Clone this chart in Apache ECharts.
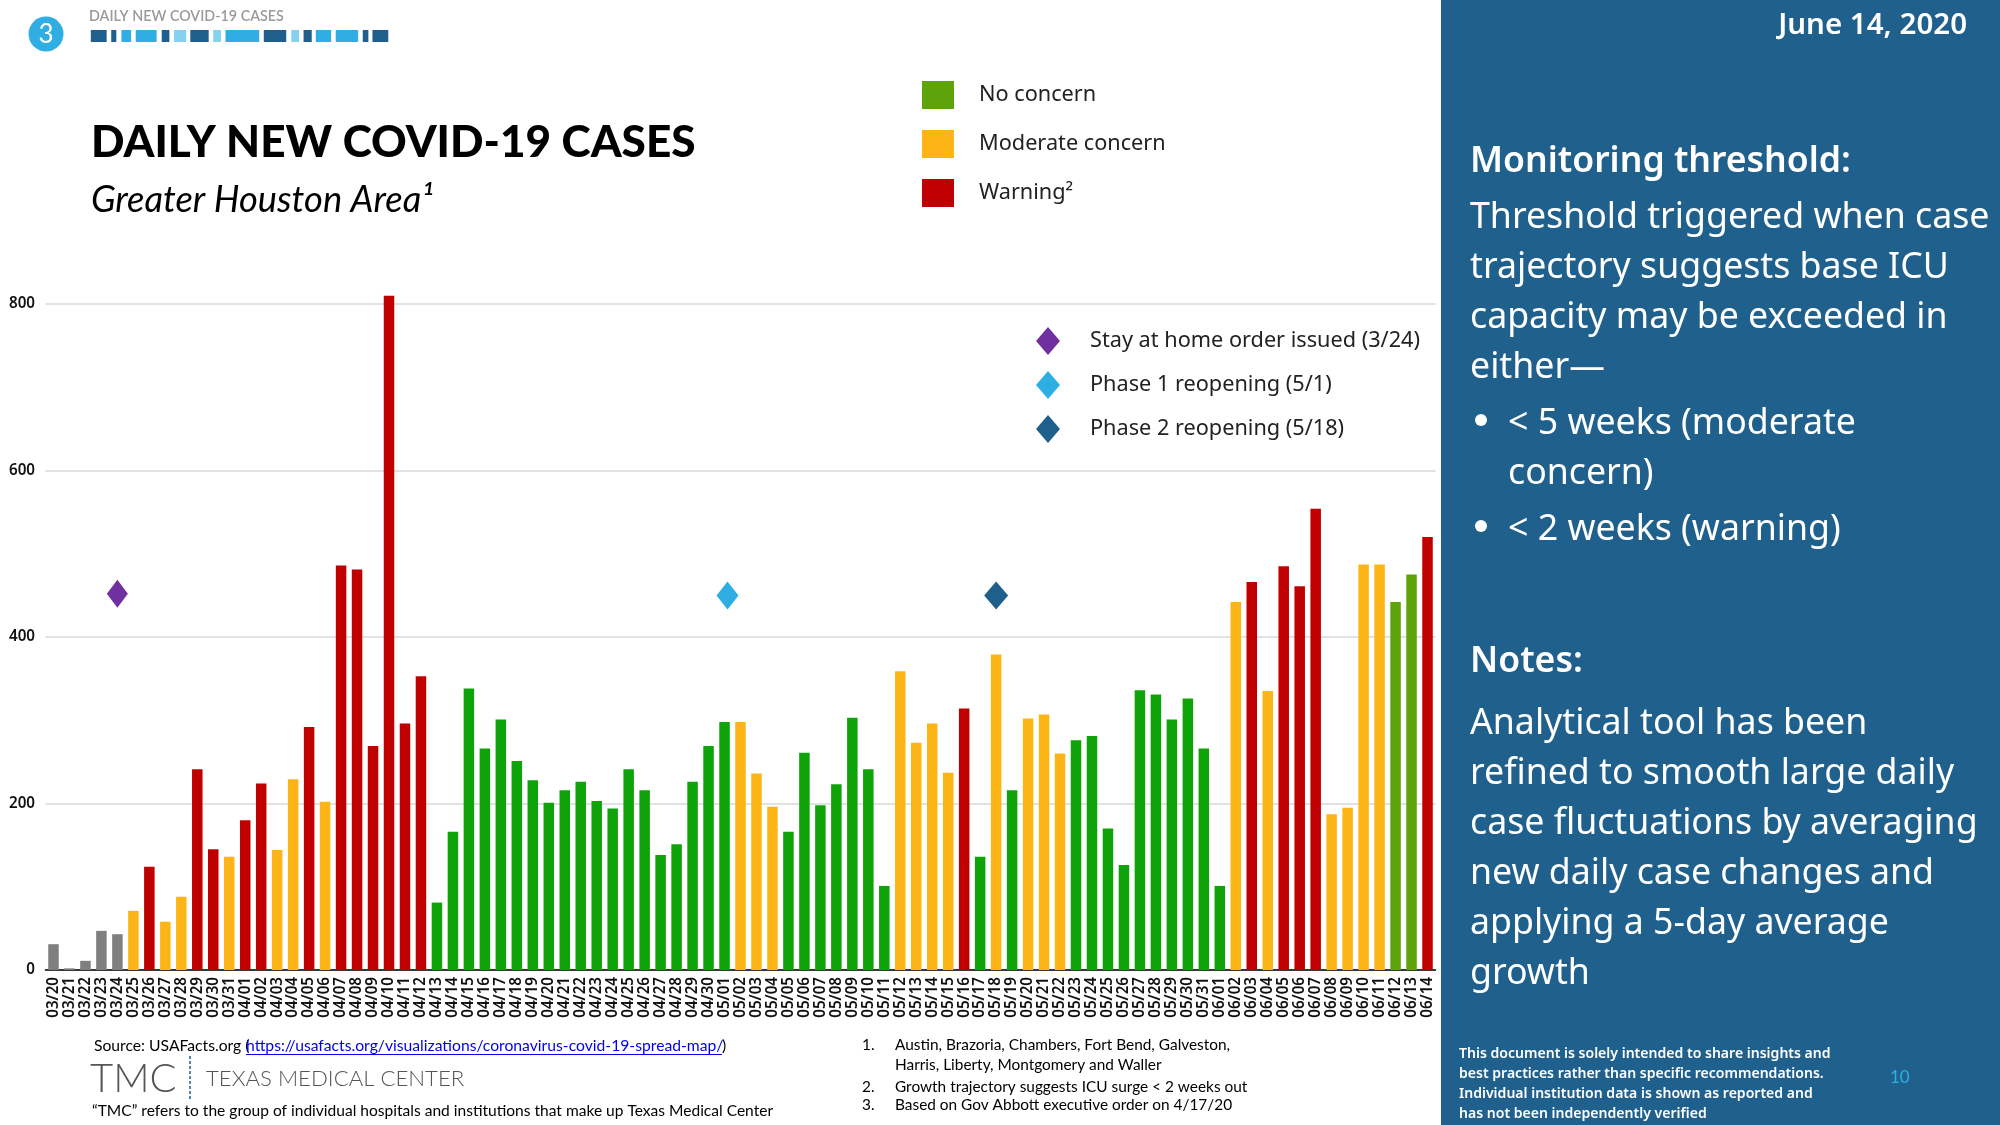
<!DOCTYPE html>
<html><head><meta charset="utf-8">
<style>html,body{margin:0;padding:0;background:#fff}#c{width:2000px;height:1125px}</style>
<script src="https://cdn.jsdelivr.net/npm/echarts@6/dist/echarts.min.js"></script>
</head><body><div id="c"></div>
<script>
const categories = ['03/20','03/21','03/22','03/23','03/24','03/25','03/26','03/27','03/28','03/29','03/30','03/31',
'04/01','04/02','04/03','04/04','04/05','04/06','04/07','04/08','04/09','04/10','04/11','04/12','04/13','04/14','04/15','04/16','04/17','04/18','04/19','04/20','04/21','04/22','04/23','04/24','04/25','04/26','04/27','04/28','04/29','04/30',
'05/01','05/02','05/03','05/04','05/05','05/06','05/07','05/08','05/09','05/10','05/11','05/12','05/13','05/14','05/15','05/16','05/17','05/18','05/19','05/20','05/21','05/22','05/23','05/24','05/25','05/26','05/27','05/28','05/29','05/30','05/31',
'06/01','06/02','06/03','06/04','06/05','06/06','06/07','06/08','06/09','06/10','06/11','06/12','06/13','06/14'];
const cases = [31,2,11,47,43,71,124,58,88,241,145,136,
180,224,144,229,292,202,486,481,269,810,296,353,81,166,338,266,301,251,228,201,216,226,203,194,241,216,138,151,226,269,
298,298,236,196,166,261,198,223,303,241,101,359,273,296,237,314,136,379,216,302,307,260,276,281,170,126,336,331,301,326,266,
101,442,466,335,485,461,554,187,195,487,487,442,475,520];
// n = no data class (grey), g = green, a = amber, r = red, o = olive
const levels = ['n','n','n','n','n','a','r','a','a','r','r','a',
'r','r','a','a','r','a','r','r','r','r','r','r','g','g','g','g','g','g','g','g','g','g','g','g','g','g','g','g','g','g',
'g','a','a','a','g','g','g','g','g','g','g','a','a','a','a','r','g','a','g','a','a','a','g','g','g','g','g','g','g','g','g',
'g','a','r','a','r','r','r','a','a','a','a','o','o','r'];
const yTicks = [0,200,400,600,800];
const milestones = [
  {name:'Stay at home order issued (3/24)', date:'03/24', y:452},
  {name:'Phase 1 reopening (5/1)', date:'05/01', y:450},
  {name:'Phase 2 reopening (5/18)', date:'05/18', y:450}
];
const footnotes = ['Austin, Brazoria, Chambers, Fort Bend, Galveston,','Harris, Liberty, Montgomery and Waller','Growth trajectory suggests ICU surge < 2 weeks out','Based on Gov Abbott executive order on 4/17/20'];

const levelStyle = {
  o:{name:'No concern', color:'#5FA30B'},
  a:{name:'Moderate concern', color:'#FDB515'},
  r:{name:'Warning\u00B2', color:'#C00000'},
  g:{name:'Green days', color:'#0FA30A'},
  n:{name:'Early days', color:'#7F7F7F'}
};
const barSeries = Object.keys(levelStyle).map(k => ({
  type:'bar', name:levelStyle[k].name, stack:'cases', barWidth:10.5,
  itemStyle:{color:levelStyle[k].color},
  data:cases.map((v,i)=>levels[i]===k?v:null), silent:true, z:3
}));
const msColors=['#7030A0','#2FAEE3','#1F5F8B'];
const msOffsets=[[0,0],[3,0],[0,0]];
const msSizes=[[21,28],[22,28],[24,28]];
const msSeries = milestones.map((m,i)=>({
  type:'scatter', name:m.name, symbol:'diamond', symbolSize:msSizes[i], symbolOffset:msOffsets[i],
  itemStyle:{color:msColors[i],opacity:1}, data:[[m.date,m.y]], z:5, silent:true
}));

const BODY='"Noto Sans"', CAL='Lato';
function T(text,x,y,size,opt={}){
  return {type:'text',z:10,silent:true,style:{text,x,y,fill:opt.fill||'#000',
    font:`${opt.italic?'italic ':''}${opt.weight||'normal'} ${size}px ${opt.fam||BODY}`,
    align:opt.align||'left',verticalAlign:'middle'}};
}
const g=[];
// right panel
g.push({type:'rect',z:1,silent:true,shape:{x:1441,y:0,width:559,height:1125},style:{fill:'#20608C'}});
const W='#fff';
g.push(T('June 14, 2020',1967,26,29.5,{fill:W,weight:600,align:'right'}));
g.push(T('Monitoring threshold:',1470,162,35.6,{fill:W,weight:600}));
[['Threshold triggered when case',218],['trajectory suggests base ICU',268],['capacity may be exceeded in',318],['either\u2014',368],['Analytical tool has been',724],['refined to smooth large daily',774],['case fluctuations by averaging',824],['new daily case changes and',874],['applying a 5-day average',924],['growth',974]]
 .forEach(l=>g.push(T(l[0],1470,l[1],35.7,{fill:W})));
g.push(T('Notes:',1470,662,35.6,{fill:W,weight:600}));
[['< 5 weeks (moderate',424],['concern)',474],['< 2 weeks (warning)',530]].forEach(l=>g.push(T(l[0],1508,l[1],35.7,{fill:W})));
[420,526].forEach(y=>g.push({type:'circle',z:10,silent:true,shape:{cx:1481,cy:y,r:6},style:{fill:W}}));
[['This document is solely intended to share insights and',1054],['best practices rather than specific recommendations.',1074],['Individual institution data is shown as reported and',1094],['has not been independently verified',1114]]
 .forEach(l=>g.push(T(l[0],1459,l[1],14.05,{fill:W,weight:600})));
g.push(T('10',1890,1078,17,{fill:'#2FAEE3',fam:CAL}));
// header strip
g.push({type:'circle',z:2,silent:true,shape:{cx:46,cy:34,r:17.5},style:{fill:'#2FAEE3'}});
g.push(T('3',46,35,26,{fill:W,align:'center',fam:CAL}));
g.push(T('DAILY NEW COVID-19 CASES',89,16,14.3,{fill:'#9A9A9A',fam:CAL,weight:600}));
const D='#1F5F8B',B='#2FAEE3',L='#85D2F0';
[[178,209,D],[218,228,D],[238,257,B],[266,307,B],[317,332,D],[341,365,L],[373,409,D],[418,433,L],[442,508,B],[517,561,D],[571,586,L],[595,611,D],[619,649,B],[658,702,B],[711,722,D],[730,761,D]]
 .forEach(s=>g.push({type:'rect',z:2,silent:true,shape:{x:s[0]/1.96,y:30,width:(s[1]-s[0])/1.96,height:12},style:{fill:s[2]}}));
// titles
g.push(T('DAILY NEW COVID-19 CASES',91,142.5,44.1,{fam:CAL,weight:900}));
g.push(T('Greater Houston Area\u00B9',91,200,36.3,{fam:CAL,italic:true}));
// source + logo
g.push(T('Source: USAFacts.org (',94,1046,15.7,{fam:CAL}));
g.push(T('https://usafacts.org/visualizations/coronavirus-covid-19-spread-map/',246,1046,15.7,{fam:CAL,fill:'#0000EE'}));
g.push({type:'rect',z:10,silent:true,shape:{x:246,y:1054,width:476,height:1},style:{fill:'#0000EE'}});
g.push(T(')',722,1046,15.7,{fam:CAL}));
g.push(T('TMC',90,1079,40,{fam:CAL,weight:300,fill:'#555'}));
g.push({type:'line',z:10,silent:true,shape:{x1:190,y1:1056,x2:190,y2:1101},style:{stroke:'#1F5F8B',lineWidth:1.5,lineDash:[3,2]}});
g.push(T('TEXAS MEDICAL CENTER',206,1079,22.2,{fam:CAL,weight:300,fill:'#555'}));
g.push(T('\u201CTMC\u201D refers to the group of individual hospitals and institutions that make up Texas Medical Center',92,1111,15.55,{fam:CAL}));
// footnotes
[['1.',1045],['2.',1087],['3.',1105]].forEach(l=>g.push(T(l[0],862,l[1],15.4,{fam:CAL})));
[1045,1065,1087,1105].forEach((y,i)=>g.push(T(footnotes[i],895,y,15.4,{fam:CAL})));

const chart=echarts.init(document.getElementById('c'),null,{width:2000,height:1125});
const legendBase={orient:'vertical',padding:0,selectedMode:false,itemHeight:28,
  textStyle:{fontFamily:BODY,fontSize:21.7,color:'#222'}};
chart.setOption({
  animation:false,backgroundColor:'#fff',
  grid:{left:45.5,width:1390,top:287.35,height:682.65,containLabel:false},
  legend:[
    Object.assign({},legendBase,{left:922,top:81,itemWidth:32,itemGap:21,icon:'rect',
      data:['No concern','Moderate concern','Warning\u00B2'],
      textStyle:Object.assign({},legendBase.textStyle,{padding:[3,0,0,20]})}),
    Object.assign({},legendBase,{left:1036,top:327,itemWidth:24,itemGap:16,icon:'diamond',
      data:milestones.map(m=>m.name),
      textStyle:Object.assign({},legendBase.textStyle,{padding:[3,0,0,25]})})
  ],
  xAxis:{type:'category',data:categories,
    axisTick:{show:false},axisLine:{lineStyle:{color:'#000',width:1.5}},
    axisLabel:{interval:0,rotate:90,margin:7,fontFamily:BODY,fontSize:15.2,fontWeight:600,color:'#111'}},
  yAxis:{type:'value',min:yTicks[0],max:820,interval:yTicks[1]-yTicks[0],
    axisLine:{show:false},axisTick:{show:false},
    axisLabel:{margin:10.5,showMaxLabel:false,fontFamily:BODY,fontSize:15.2,fontWeight:600,color:'#111'},
    splitLine:{showMaxLine:false,lineStyle:{color:'#D9D9D9',width:1.5}}},
  graphic:g,
  series:barSeries.concat(msSeries)
});
</script></body></html>
